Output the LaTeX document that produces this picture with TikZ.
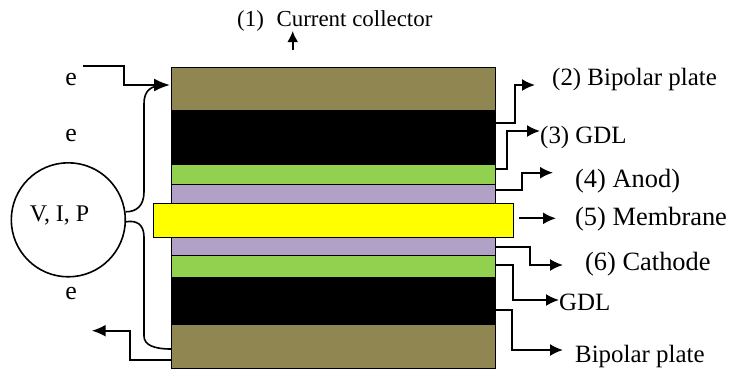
\documentclass[tikz,border=0pt]{standalone}
\usepackage{fontspec}
\setmainfont{Liberation Serif}
\usetikzlibrary{arrows.meta}
\definecolor{plate}{RGB}{143,134,81}
\definecolor{gdlgreen}{RGB}{146,208,80}
\definecolor{cat}{RGB}{178,161,199}
\definecolor{mem}{RGB}{255,255,0}
\tikzset{
  layer/.style={draw=black, line width=1.2bp, rectangle, inner sep=0pt, anchor=north west, minimum width=324bp},
  lbl/.style={inner sep=0pt, font=\fontsize{25}{30}\selectfont, anchor=base west},
  lblb/.style={inner sep=0pt, font=\fontsize{26.5}{30}\selectfont, anchor=base west},
  wire/.style={line width=1.9bp, -{Latex[length=13bp,width=12bp]}},
  brace/.style={line width=1.6bp},
}
\begin{document}
\begin{tikzpicture}[x=1bp,y=-1bp]
\useasboundingbox (0,0) rectangle (729,371);
% stack
\node[layer, fill=plate, minimum height=43.3bp] (plateA) at (171,66.7) {};
\node[layer, fill=black, minimum height=54bp] (gdlA) at (171,110) {};
\node[layer, fill=gdlgreen, minimum height=20bp] (anodeA) at (171,164) {};
\node[layer, fill=cat, minimum height=19bp] (catA) at (171,184) {};
\node[layer, fill=cat, minimum height=18bp] (catB) at (171,237) {};
\node[layer, fill=gdlgreen, minimum height=22bp] (anodeB) at (171,255) {};
\node[layer, fill=black, minimum height=47bp] (gdlB) at (171,277) {};
\node[layer, fill=plate, minimum height=44bp] (plateB) at (171,324) {};
\node[layer, fill=mem, minimum width=360bp, minimum height=34bp] (memb) at (153,203) {};

% top label
\node[lbl, font=\fontsize{23}{28}\selectfont] (l1) at (237,26.7) {(1)\hspace{0.55em}Current collector};
\coordinate (c1a) at (292.7,50);
\coordinate (c1b) at (292.7,31);
\draw[line width=1.9bp, -{Latex[length=11bp,width=11bp]}] (c1a) -- (c1b);

% right labels
\node[lbl] (l2) at (552,85) {(2) Bipolar plate};
\node[lbl] (l3) at (540,143.3) {(3) GDL};
\node[lblb] (l4) at (575,187.7) {(4) Anod)};
\node[lblb] (l5) at (575,225) {(5) Membrane};
\node[lblb] (l6) at (585,270) {(6) Cathode};
\node[lbl] (l7) at (559,310) {GDL};
\node[lbl] (l8) at (575,362) {Bipolar plate};

\coordinate (s2) at (495,122.7); \coordinate (t2) at (535,85);
\draw[wire] (s2) -| (515,85) -- (t2);
\coordinate (s3) at (495,169); \coordinate (t3) at (540,131);
\draw[wire] (s3) -| (506.7,131) -- (t3);
\coordinate (s4) at (495,190); \coordinate (t4) at (553,172.7);
\draw[wire] (s4) -| (521.7,172.7) -- (t4);
\coordinate (s5) at (519,218.3); \coordinate (t5) at (556,218.3);
\draw[wire] (s5) -- (t5);
\coordinate (s6) at (495,247.3); \coordinate (t6) at (563,265);
\draw[wire] (s6) -| (530,265) -- (t6);
\coordinate (s7) at (495,265); \coordinate (t7) at (559,300);
\draw[wire] (s7) -| (513.3,300) -- (t7);
\coordinate (s8) at (495,310); \coordinate (t8) at (563,350);
\draw[wire] (s8) -| (511.7,350) -- (t8);

% left circuit
\node[circle, draw, line width=1.6bp, minimum size=114bp, inner sep=0pt] (vip) at (68.3,219.8) {};
\node[lbl, font=\fontsize{24}{28}\selectfont, anchor=base] (viptext) at (59.5,221.7) {V, I, P};

\node[lbl, anchor=base, font=\fontsize{26}{30}\selectfont] (e1) at (71,85) {e};
\node[lbl, anchor=base, font=\fontsize{26}{30}\selectfont] (e2) at (71,141.7) {e};
\node[lbl, anchor=base, font=\fontsize{26}{30}\selectfont] (e3) at (71,299.5) {e};

\coordinate (in0) at (83,66);
\coordinate (in1) at (170,85);
\draw[line width=1.9bp, -{Latex[length=16bp,width=13bp]}] (in0) -- (124,66) |- (in1);

\coordinate (out0) at (171,360);
\coordinate (out1) at (91.7,330.7);
\draw[line width=1.9bp, -{Latex[length=14bp,width=12bp]}] (out0) -| (130,330.7) -- (out1);

\coordinate (bt) at (166,85);
\coordinate (bb) at (171,349);
\draw[brace] (bt) .. controls (150,85) and (144,91) .. (144,104) -- (144,192)
  .. controls (144,206) and (136,212) .. (vip.8);
\draw[brace] (vip.-2) .. controls (136,220) and (144,224) .. (144,237) -- (144,336)
  .. controls (144,345) and (154,349) .. (bb);
\end{tikzpicture}
\end{document}
